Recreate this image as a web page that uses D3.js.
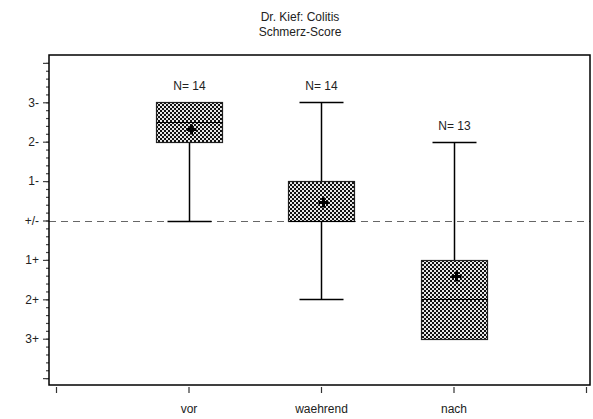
<!DOCTYPE html>
<html>
<head>
<meta charset="utf-8">
<script src="https://cdn.jsdelivr.net/npm/d3@7"></script>
<style>
  body { margin: 0; background: #fff; }
  text { font-family: "Liberation Sans", Arial, sans-serif; font-size: 12px; fill: #222; }
</style>
</head>
<body>
<script>
// values
var categories = ["vor", "waehrend", "nach"];
var nCount     = [14, 14, 13];
var whiskerLow = [0, -2, -3];
var q1         = [2, 0, -3];
var median     = [2.5, 0, -2];
var q3         = [3, 1, -1];
var whiskerHigh = [3, 3, 2];
var means      = [2.32, 0.48, -1.41];

var yTickValues = [3, 2, 1, 0, -1, -2, -3];
var yTickLabels = ["3-", "2-", "1-", "+/-", "1+", "2+", "3+"];

var width = 593, height = 419;
var frame = { left: 49, right: 590, top: 55, bottom: 385 };

var svg = d3.select("body").append("svg")
    .attr("width", width)
    .attr("height", height);

// checkered box fill
var pat = svg.append("defs").append("pattern")
    .attr("id", "checker")
    .attr("patternUnits", "userSpaceOnUse")
    .attr("width", 4).attr("height", 4);
pat.append("rect").attr("width", 4).attr("height", 4).attr("fill", "#111");
pat.append("rect").attr("x", 0).attr("y", 0).attr("width", 2).attr("height", 2).attr("fill", "#e8e8e8");
pat.append("rect").attr("x", 2).attr("y", 2).attr("width", 2).attr("height", 2).attr("fill", "#e8e8e8");

var x = d3.scaleLinear().domain([0, 4]).range([56, 586]);
var y = d3.scaleLinear().domain([-4.2, 4.2]).range([386, 55]);

// pixel-snapped y for crisp horizontal lines
function py(v) { return Math.round(y(v)) + 0.5; }

// title
svg.append("text").attr("x", 300).attr("y", 21).attr("text-anchor", "middle").text("Dr. Kief: Colitis");
svg.append("text").attr("x", 300).attr("y", 36).attr("text-anchor", "middle").text("Schmerz-Score");

// reference line at 0
svg.append("line")
    .attr("x1", frame.left).attr("x2", frame.right)
    .attr("y1", py(0)).attr("y2", py(0))
    .attr("stroke", "#666").attr("stroke-width", 1.2)
    .attr("stroke-dasharray", "7,5");

// y axis: minor ticks every 0.2, major at integers
var minor = d3.range(-20, 21).map(function(i) { return i / 5; });
var yAxisMinor = d3.axisLeft(y).tickValues(minor).tickSize(3).tickFormat("");
var yAxisMajor = d3.axisLeft(y).tickValues(d3.range(-4, 5)).tickSize(6)
    .tickFormat(function(d) {
        var i = yTickValues.indexOf(d);
        return i < 0 ? "" : yTickLabels[i];
    });

var gMinor = svg.append("g").attr("transform", "translate(" + frame.left + ",0)").call(yAxisMinor);
var gMajor = svg.append("g").attr("transform", "translate(" + frame.left + ",0)").call(yAxisMajor);
[gMinor, gMajor].forEach(function(g) {
    g.select(".domain").remove();
    g.selectAll(".tick line").attr("stroke", "#444").attr("stroke-width", 1.2);
});
gMajor.selectAll(".tick text")
    .attr("x", -10)
    .style("font-family", "Liberation Sans, Arial, sans-serif")
    .style("font-size", "12px")
    .attr("fill", "#222");

// x axis
var xAxis = d3.axisBottom(x).tickValues([0, 1, 2, 3, 4]).tickSize(6)
    .tickFormat(function(d) { return categories[d - 1] || ""; });
var gx = svg.append("g").attr("transform", "translate(0," + (frame.bottom + 2) + ")").call(xAxis);
gx.select(".domain").remove();
gx.selectAll(".tick line").attr("stroke", "#333").attr("stroke-width", 1.2);
gx.selectAll(".tick text")
    .attr("y", 17)
    .style("font-family", "Liberation Sans, Arial, sans-serif")
    .style("font-size", "12px")
    .attr("fill", "#222");

// boxes
var boxW = 0.505, capW = 0.33;
var data = categories.map(function(c, i) {
    return { pos: i + 1, lo: whiskerLow[i], q1: q1[i], med: median[i], q3: q3[i],
             hi: whiskerHigh[i], mean: means[i], n: nCount[i] };
});

var box = svg.selectAll(".box").data(data).enter().append("g").attr("class", "box");

box.each(function(d) {
    var g = d3.select(this);
    var cx = Math.round(x(d.pos)) + 0.5;
    var half = Math.round((x(boxW) - x(0)) / 2), capHalf = Math.round((x(capW) - x(0)) / 2);

    if (d.hi > d.q3) {
        g.append("line").attr("x1", cx).attr("x2", cx).attr("y1", py(d.q3)).attr("y2", py(d.hi))
            .attr("stroke", "#000").attr("stroke-width", 1.5);
        g.append("line").attr("x1", cx - capHalf).attr("x2", cx + capHalf).attr("y1", py(d.hi)).attr("y2", py(d.hi))
            .attr("stroke", "#000").attr("stroke-width", 1.5);
    }
    if (d.lo < d.q1) {
        g.append("line").attr("x1", cx).attr("x2", cx).attr("y1", py(d.q1)).attr("y2", py(d.lo))
            .attr("stroke", "#000").attr("stroke-width", 1.5);
        g.append("line").attr("x1", cx - capHalf).attr("x2", cx + capHalf).attr("y1", py(d.lo)).attr("y2", py(d.lo))
            .attr("stroke", "#000").attr("stroke-width", 1.5);
    }

    g.append("rect")
        .attr("x", cx - half).attr("y", py(d.q3))
        .attr("width", half * 2).attr("height", py(d.q1) - py(d.q3))
        .attr("fill", "url(#checker)")
        .attr("stroke", "#222").attr("stroke-width", 1.2);

    g.append("line").attr("x1", cx - half).attr("x2", cx + half).attr("y1", py(d.med)).attr("y2", py(d.med))
        .attr("stroke", "#000").attr("stroke-width", 1.6)
        .attr("shape-rendering", "crispEdges");

    // mean marker
    var my = Math.round(y(d.mean)) + 0.5, mx = cx + 2;
    g.append("line").attr("x1", mx - 5).attr("x2", mx + 5).attr("y1", my).attr("y2", my)
        .attr("stroke", "#000").attr("stroke-width", 3);
    g.append("line").attr("x1", mx).attr("x2", mx).attr("y1", my - 5).attr("y2", my + 5)
        .attr("stroke", "#000").attr("stroke-width", 3);

    g.append("text").attr("x", cx).attr("y", y(d.hi) - 12)
        .attr("text-anchor", "middle").text("N= " + d.n);
});

// frame
svg.append("rect")
    .attr("x", frame.left).attr("y", frame.top)
    .attr("width", frame.right - frame.left).attr("height", frame.bottom - frame.top)
    .attr("fill", "none").attr("stroke", "#000").attr("stroke-width", 1.5);
</script>
</body>
</html>
